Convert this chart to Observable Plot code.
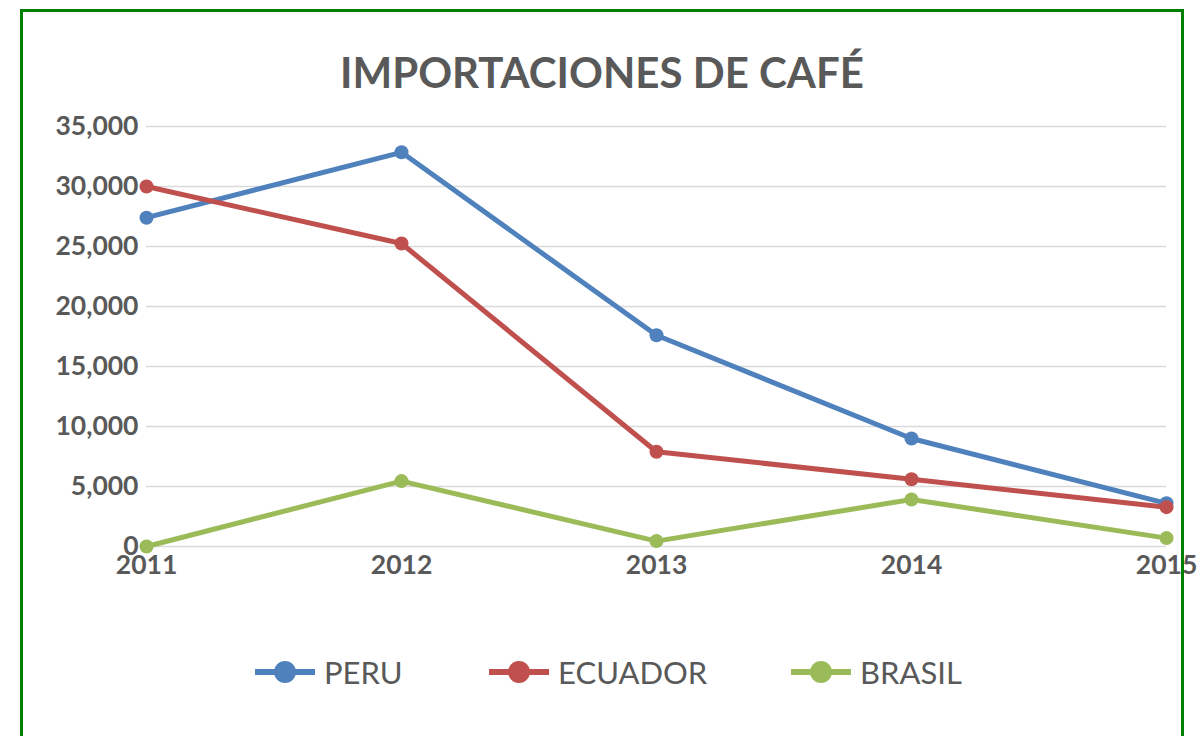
<!DOCTYPE html>
<html>
<head>
<meta charset="utf-8">
<script src="https://cdn.jsdelivr.net/npm/d3@7"></script>
<script src="https://cdn.jsdelivr.net/npm/@observablehq/plot@0.6"></script>
<style>
  html, body { margin: 0; padding: 0; background: #fff; overflow: hidden; width: 1199px; height: 736px; }
  #frame { position: absolute; left: 20px; top: 9px; width: 1158px; height: 800px; border: 3px solid #008000; z-index: 5; pointer-events: none; }
  #title { position: absolute; left: 20px; width: 1164px; top: 44px; text-align: center; font-family: Lato, sans-serif; font-weight: bold; font-size: 42px; color: #595959; line-height: 56px; }
  #chart { position: absolute; left: 20px; top: 100px; }
  #chart svg { overflow: visible; }
  #legend { position: absolute; top: 650px; left: 0; width: 1199px; height: 44px; font-family: Lato, sans-serif; font-size: 31px; color: #595959; }
  .item { position: absolute; display: flex; align-items: center; height: 44px; }
  .item svg { margin-right: 9px; }
</style>
</head>
<body>
<div id="frame"></div>
<div id="title">IMPORTACIONES DE CAFÉ</div>
<div id="chart"></div>
<div id="legend"></div>
<script>
const years = [2011, 2012, 2013, 2014, 2015];
const seriesNames = ["PERU", "ECUADOR", "BRASIL"];
const seriesColors = ["#4f81bd", "#c0504d", "#9bbb59"];
const peru = [27400, 32850, 17600, 9000, 3600];
const ecuador = [30000, 25250, 7900, 5600, 3280];
const brasil = [0, 5450, 450, 3920, 700];
const yTicks = [0, 5000, 10000, 15000, 20000, 25000, 30000, 35000];
const legendLeft = [255, 489, 791];

const seriesValues = [peru, ecuador, brasil];
const data = [];
seriesNames.forEach((s, i) => years.forEach((yr, j) => data.push({series: s, year: yr, value: seriesValues[i][j]})));

const chart = Plot.plot({
  width: 1164,
  height: 500,
  marginLeft: 126,
  marginRight: 18,
  marginTop: 26,
  marginBottom: 54,
  style: { fontFamily: "Lato, sans-serif", fontSize: "26.5px", fontWeight: "bold", color: "#595959", background: "transparent", overflow: "visible" },
  x: { type: "point", domain: years, padding: 0, label: null },
  y: { domain: [0, 35000], label: null },
  color: { domain: seriesNames, range: seriesColors },
  marks: [
    Plot.gridY(yTicks, { stroke: "#d9d9d9", strokeOpacity: 1, strokeWidth: 1.5 }),
    Plot.axisY(yTicks, { tickSize: 0, tickPadding: 8, tickFormat: d3.format(","), label: null }),
    Plot.axisX(years, { tickSize: 0, tickPadding: 9, tickFormat: d => String(d), label: null }),
    Plot.line(data, { x: "year", y: "value", z: "series", stroke: "series", strokeWidth: 5, strokeLinejoin: "round", strokeLinecap: "round" }),
    Plot.dot(data, { x: "year", y: "value", fill: "series", r: 7 })
  ]
});
document.getElementById("chart").appendChild(chart);

const legend = document.getElementById("legend");
seriesNames.forEach((s, i) => {
  const item = document.createElement("div");
  item.className = "item";
  item.style.left = legendLeft[i] + "px";
  item.innerHTML = `<svg width="60" height="24"><line x1="0" y1="12" x2="60" y2="12" stroke="${seriesColors[i]}" stroke-width="6"/><circle cx="30" cy="12" r="11" fill="${seriesColors[i]}"/></svg><span>${s}</span>`;
  legend.appendChild(item);
});
</script>
</body>
</html>
